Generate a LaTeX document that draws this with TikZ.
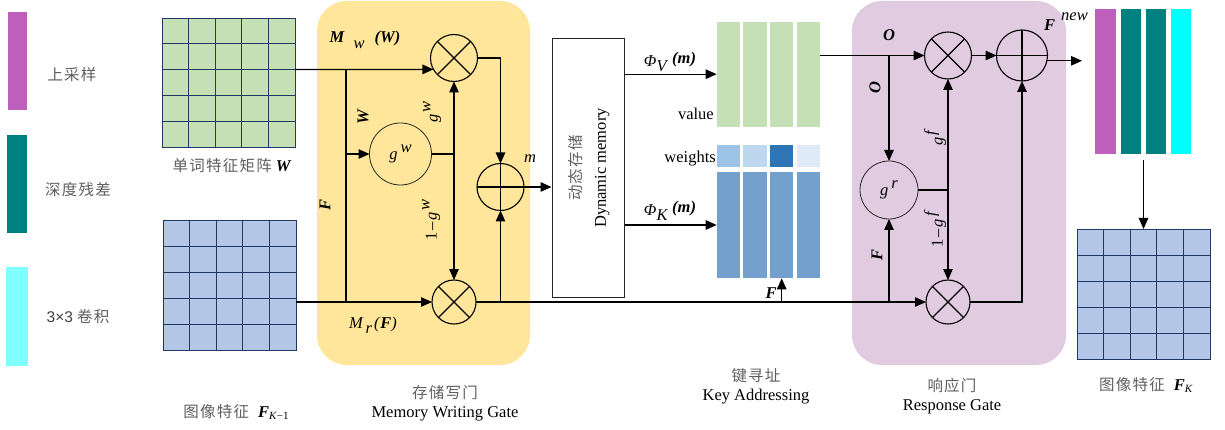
\documentclass[tikz,border=0pt]{standalone}
\usepackage{fontspec}
\setmainfont{Liberation Serif}
\newfontfamily\zh[LetterSpace=8]{Noto Sans CJK SC}
\newfontfamily\lsans{Liberation Sans}
\usetikzlibrary{arrows.meta,calc}

\definecolor{upmag}{RGB}{190,96,187}
\definecolor{resteal}{RGB}{0,128,126}
\definecolor{convcyanlight}{RGB}{128,255,255}
\definecolor{convcyan}{RGB}{0,255,255}
\definecolor{writegate}{RGB}{255,230,155}
\definecolor{respgate}{RGB}{225,203,225}
\definecolor{wordgreen}{RGB}{197,224,180}
\definecolor{imgblue}{RGB}{180,199,231}
\definecolor{gridline}{RGB}{32,56,100}
\definecolor{keyblue}{RGB}{116,160,206}
\definecolor{wa}{RGB}{157,195,230}
\definecolor{wb}{RGB}{189,215,238}
\definecolor{wc}{RGB}{46,117,182}
\definecolor{wd}{RGB}{222,235,247}
\definecolor{zhgray}{RGB}{95,95,95}

\tikzset{
  conn/.style={line width=1.2pt, draw=black},
  arr/.style={conn, -{Triangle[length=11pt,width=9.5pt]}},
  opcirc/.style={circle, draw=black, line width=1.1pt, inner sep=0pt, outer sep=0pt},
  mulop/.style={opcirc, path picture={\draw[line width=1.1pt]
      (path picture bounding box.north east) -- (path picture bounding box.south west)
      (path picture bounding box.north west) -- (path picture bounding box.south east);}},
  addop/.style={opcirc, path picture={\draw[line width=1.1pt]
      (path picture bounding box.north) -- (path picture bounding box.south)
      (path picture bounding box.west) -- (path picture bounding box.east);}},
  gatecirc/.style={circle, draw=black!85, line width=0.8pt, inner sep=0pt, outer sep=0pt,
      font=\fontsize{16.5}{18}\selectfont},
  gatebox/.style={rounded corners=30pt, inner sep=0pt, outer sep=0pt},
  featgrid/.style={draw=gridline, line width=0.9pt, inner sep=0pt, outer sep=0pt},
  cellline/.style={draw=gridline, line width=0.9pt},
  bar/.style={inner sep=0pt, outer sep=0pt},
  lbl/.style={inner sep=0pt, font=\fontsize{16.5}{18}\selectfont},
  zhlbl/.style={inner sep=0pt, text=zhgray, font=\zh\fontsize{15.5}{18}\selectfont},
}

% inner 5x5 lines of a feature grid node
\newcommand\cellgrid[1]{%
  \foreach \i in {1,...,4}{%
    \draw[cellline] ($(#1.south west)!\i/5!(#1.south east)$) -- ($(#1.north west)!\i/5!(#1.north east)$);
    \draw[cellline] ($(#1.south west)!\i/5!(#1.north west)$) -- ($(#1.south east)!\i/5!(#1.north east)$);
  }}
\newcommand\bi[1]{\textbf{\textit{#1}}}

\begin{document}
\begin{tikzpicture}[x=1pt,y=-1pt]
\useasboundingbox (0,0) rectangle (1225,430);

% ---------- legend ----------
\node[bar, fill=upmag, minimum width=19pt, minimum height=98pt] (lup) at (17.5,61) {};
\node[bar, fill=resteal, minimum width=20pt, minimum height=98pt] (lres) at (17,184) {};
\node[bar, fill=convcyanlight, minimum width=22pt, minimum height=99pt] (lconv) at (17,316.5) {};
\node[zhlbl] (tup) at (72,75) {上采样};
\node[zhlbl] (tres) at (78,190) {深度残差};
\node[zhlbl] (tconv) at (78,317) {{\lsans\color{black!75}3×3}\hspace{4pt}卷积};

% ---------- gate backgrounds ----------
\node[gatebox, fill=writegate, minimum width=213pt, minimum height=364pt] (wgate) at (423.5,183) {};
\node[gatebox, fill=respgate, minimum width=214pt, minimum height=364pt] (rgate) at (959,183) {};

% ---------- feature grids ----------
\node[featgrid, fill=wordgreen, minimum width=133pt, minimum height=129pt] (wgrid) at (228.5,82.5) {};
\cellgrid{wgrid}
\node[featgrid, fill=imgblue, minimum width=133pt, minimum height=130pt] (fin) at (229.5,285) {};
\cellgrid{fin}
\node[featgrid, fill=imgblue, minimum width=133pt, minimum height=130pt] (fout) at (1143.5,294) {};
\cellgrid{fout}

\node[lbl] (twgrid) at (232,166) {{\zh\color{zhgray}\fontsize{15.5}{18}\selectfont 单词特征矩阵}\hspace{4pt}\bi{W}};
\node[lbl] (tfin) at (236,412) {{\zh\color{zhgray}\fontsize{15.5}{18}\selectfont 图像特征}\hspace{9pt}\bi{F}\raisebox{-2pt}{\fontsize{11}{12}\selectfont\textit{K}−1}};
\node[lbl] (tfout) at (1146,385) {{\zh\color{zhgray}\fontsize{15.5}{18}\selectfont 图像特征}\hspace{9pt}\bi{F}\raisebox{-2pt}{\fontsize{11}{12}\selectfont\textit{K}}};

% ---------- memory writing gate ----------
\node[mulop, minimum size=47pt] (mul1) at (454,58) {};
\node[mulop, minimum size=44pt] (mul2) at (454,302) {};
\node[addop, minimum size=47pt] (plus1) at (500.5,187) {};
\node[gatecirc, minimum size=62pt] (gw) at (400.5,154) {\textit{g}\hspace{3pt}\raisebox{7pt}{\textit{w}}};

\node[lbl] (tmw) at (365,40) {\bi{M}\hspace{9pt}\raisebox{-6pt}{\textit{w}}\hspace{10pt}\bi{(W)}};
\node[lbl] (tmr) at (373,325) {\textit{M}\hspace{2pt}\raisebox{-5pt}{\textit{r}}\hspace{2pt}\textit{(}\bi{F}\textit{)}};
\node[lbl, rotate=90] (tw) at (363,117) {\bi{W}};
\node[lbl, rotate=90] (tf1) at (325,205) {\bi{F}};
\node[lbl, rotate=90] (tgw) at (432,112) {\textit{g}\hspace{2pt}\raisebox{7pt}{\textit{w}}};
\node[lbl, rotate=90] (tgw1) at (431,220) {1\hspace{2pt}–\hspace{2pt}\textit{g}\hspace{2pt}\raisebox{7pt}{\textit{w}}};
\node[lbl] (tm) at (530,159) {\textit{m}};

\node[zhlbl] (twgz) at (445,393) {存储写门};
\node[lbl] (twge) at (445,414) {Memory Writing Gate};

% ---------- dynamic memory ----------
\node[draw=black!85, line width=1pt, inner sep=0pt, minimum width=72pt, minimum height=258pt] (dyn) at (588,168) {};
\node[lbl, rotate=90, align=center, font=\fontsize{16.5}{24}\selectfont] (dyntext) at (589,168)
  {{\zh\color{zhgray}\fontsize{15.5}{24}\selectfont 动态存储}\\Dynamic memory};

% ---------- key addressing ----------
\foreach \n/\x in {1/728.3,2/755,3/781.7,4/808.3}{
  \node[bar, fill=wordgreen, minimum width=23.3pt, minimum height=105pt] (v\n) at (\x,74.2) {};
  \node[bar, fill=keyblue, minimum width=23.3pt, minimum height=106.6pt] (k\n) at (\x,225) {};
}
\node[bar, fill=wa, minimum width=23.3pt, minimum height=22.3pt] (w1) at (728.3,156.2) {};
\node[bar, fill=wb, minimum width=23.3pt, minimum height=22.3pt] (w2) at (755,156.2) {};
\node[bar, fill=wc, minimum width=23.3pt, minimum height=22.3pt] (w3) at (781.7,156.2) {};
\node[bar, fill=wd, minimum width=23.3pt, minimum height=22.3pt] (w4) at (808.3,156.2) {};
\node[lbl, anchor=east] (tvalue) at (714,114) {value};
\node[lbl, anchor=east] (tweights) at (716,159) {weights};
\node[lbl] (tphiv) at (670,62) {\textit{Φ}\raisebox{-5pt}{\textit{V}}\hspace{4pt}\raisebox{3pt}{\bi{(m)}}};
\node[lbl] (tphik) at (670,211) {\textit{Φ}\raisebox{-5pt}{\textit{K}}\hspace{4pt}\raisebox{3pt}{\bi{(m)}}};
\node[lbl] (tfk) at (771,293) {\bi{F}};
\node[zhlbl] (tkaz) at (756,376) {键寻址};
\node[lbl] (tkae) at (756,397) {Key Addressing};

% ---------- response gate ----------
\node[mulop, minimum size=47pt] (mul3) at (948,55.5) {};
\node[addop, minimum size=51pt] (plus2) at (1022,55.5) {};
\node[mulop, minimum size=44pt] (mul4) at (948,302) {};
\node[gatecirc, minimum size=58pt] (gr) at (889,190) {\textit{g}\hspace{3pt}\raisebox{7pt}{\textit{r}}};
\node[lbl] (to1) at (889,35) {\bi{O}};
\node[lbl, rotate=90] (to2) at (875,88) {\bi{O}};
\node[lbl, rotate=90] (tgf) at (935,137) {\textit{g}\hspace{2pt}\raisebox{7pt}{\textit{f}}};
\node[lbl, rotate=90] (tgf1) at (935,229) {1\hspace{2pt}–\hspace{2pt}\textit{g}\hspace{2pt}\raisebox{7pt}{\textit{f}}};
\node[lbl, rotate=90] (tf2) at (877,255) {\bi{F}};
\node[lbl] (tfnew) at (1066,22) {\bi{F}\hspace{6pt}\raisebox{10pt}{\textit{new}}};
\node[zhlbl] (trgz) at (952,386) {响应门};
\node[lbl] (trge) at (952,407) {Response Gate};

% ---------- output block ----------
\node[bar, fill=upmag, minimum width=21pt, minimum height=145pt] (o1) at (1105,81.5) {};
\node[bar, fill=resteal, minimum width=20.5pt, minimum height=145pt] (o2) at (1131,81.5) {};
\node[bar, fill=resteal, minimum width=20.5pt, minimum height=145pt] (o3) at (1156,81.5) {};
\node[bar, fill=convcyan, minimum width=20.5pt, minimum height=145pt] (o4) at (1181,81.5) {};

% ---------- connectors ----------
\coordinate (wout) at (295,69.5);
\coordinate (wsplit) at (346,69.5);
\coordinate (fsplit) at (346,302);
\draw[arr] (wout) -- (mul1.209);
\draw[conn] (wsplit) -- (fsplit);
\draw[arr] (wsplit |- gw.west) -- (gw.west);
\coordinate (gwj) at (mul1.south |- gw.east);
\draw[conn] (gw.east) -- (gwj);
\draw[arr] (gwj) -- (mul1.south);
\draw[arr] (gwj) -- (mul2.north);
\draw[arr] (fin.east |- mul2.west) -- (mul2.west);
\draw[arr] (mul1.east) -| (plus1.north);
\draw[arr] (mul2.east) -| (plus1.south);
\draw[arr] (plus1.east) -- (plus1.east -| dyn.west);
\draw[arr] (mul2.east) -- (mul4.west);

\draw[arr] (dyn.east |- v1.west) -- (v1.west);
\draw[arr] (dyn.east |- k1.west) -- (k1.west);
\draw[arr] (k3.south |- mul4.west) -- (k3.south);

\coordinate (vout) at (820,55.5);
\draw[arr] (vout) -- (mul3.west);
\draw[arr] (vout -| gr.north) -- (gr.north);
\draw[arr] (gr.south |- mul4.west) -- (gr.south);
\coordinate (grj) at (mul3.south |- gr.east);
\draw[conn] (gr.east) -- (grj);
\draw[arr] (grj) -- (mul3.south);
\draw[arr] (grj) -- (mul4.north);
\draw[arr] (mul3.east) -- (plus2.west);
\draw[arr] (mul4.east) -| (plus2.south);
\coordinate (newtip) at (1082,61);
\draw[arr] (plus2.348) -- (plus2.348 -| newtip);

\coordinate (obot) at (1143.5,160);
\draw[arr] (obot) -- (fout.north);
\end{tikzpicture}
\end{document}
